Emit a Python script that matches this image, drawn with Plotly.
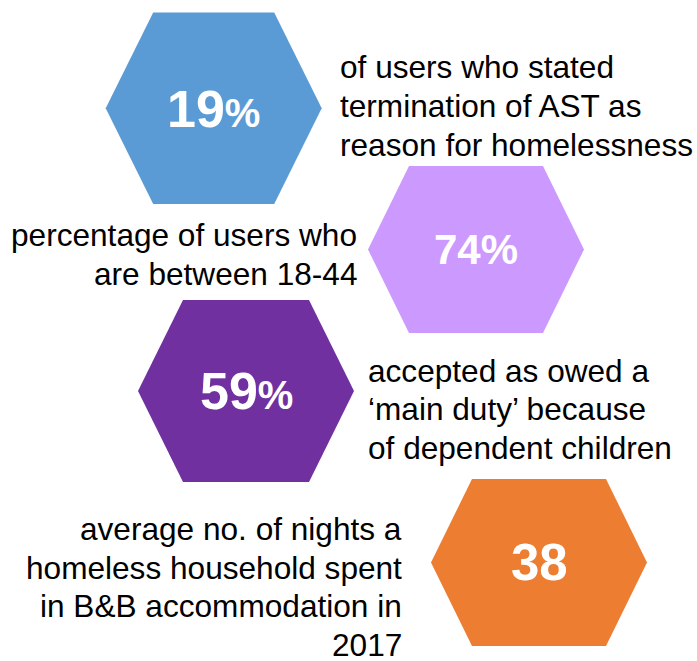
import plotly.graph_objects as go

# ---- data ----
values = ["19", "74", "59", "38"]
suffixes = ["%", "%", "%", ""]
colors = ["#5B9BD5", "#CC99FF", "#7030A0", "#ED7D31"]
descriptions = [
    ["of users who stated", "termination of AST as", "reason for homelessness"],
    ["percentage of users who", "are between 18-44"],
    ["accepted as owed a", "\u2018main duty\u2019 because", "of dependent children"],
    ["average no. of nights a", "homeless household spent", "in B&B accommodation in", "2017"],
]

# ---- layout (pixel space) ----
W, H = 697, 661
hex_cx = [213.7, 476, 246, 539]
hex_cy = [108.3, 249.5, 391, 562.5]
hex_hw = [108, 108, 108, 108]
hex_tw = [60.5, 67, 63, 67]
hex_hh = [95.7, 83.5, 91, 83.5]
num_size = [52, 42, 52, 51]
pct_size = [40, 42, 40, 40]
num_base = [127, 264.3, 409.3, 580]

text_x = [339.3, 357.7, 366.7, 403.3]
text_anchor = ["left", "right", "left", "right"]
text_base0 = [78.3, 246, 381.7, 540.5]
line_step = [39, 39, 38.5, 38.5]
desc_size = 31.6
FONT = "Liberation Sans, Arial, sans-serif"

fig = go.Figure()
annotations = []
for i in range(4):
    cx, cy, hw, tw, hh = hex_cx[i], hex_cy[i], hex_hw[i], hex_tw[i], hex_hh[i]
    xs = [cx - hw, cx - tw, cx + tw, cx + hw, cx + tw, cx - tw, cx - hw]
    ys = [cy, cy - hh, cy - hh, cy, cy + hh, cy + hh, cy]
    fig.add_trace(go.Scatter(x=xs, y=ys, fill="toself", fillcolor=colors[i],
                             mode="lines", line=dict(width=0, color=colors[i]),
                             hoverinfo="skip", showlegend=False))
    if suffixes[i] and pct_size[i] != num_size[i]:
        label = f"{values[i]}<span style='font-size:{pct_size[i]}px'>{suffixes[i]}</span>"
    else:
        label = values[i] + suffixes[i]
    annotations.append(dict(
        x=cx, y=num_base[i] - 0.35 * num_size[i], xref="x", yref="y",
        text=f"<b>{label}</b>", showarrow=False, xanchor="center", yanchor="middle",
        font=dict(family=FONT, size=num_size[i], color="white")))
    for j, line in enumerate(descriptions[i]):
        base = text_base0[i] + j * line_step[i]
        annotations.append(dict(
            x=text_x[i], y=base - 0.35 * desc_size, xref="x", yref="y",
            text=line, showarrow=False, xanchor=text_anchor[i], yanchor="middle",
            borderpad=0,
            font=dict(family=FONT, size=desc_size, color="#000000")))

fig.update_layout(
    width=W, height=H, margin=dict(l=0, r=0, t=0, b=0),
    paper_bgcolor="white", plot_bgcolor="white",
    xaxis=dict(range=[0, W], visible=False, fixedrange=True),
    yaxis=dict(range=[H, 0], visible=False, fixedrange=True),
    annotations=annotations,
)
fig.write_html("out.html", config={"displayModeBar": False},
               post_script="document.body.style.margin='0px';")
